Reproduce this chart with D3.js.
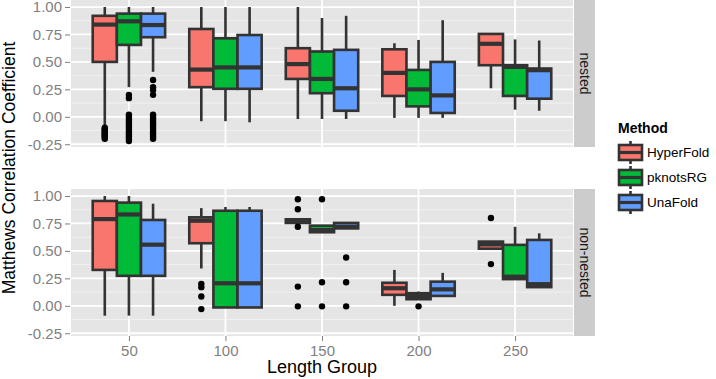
<!DOCTYPE html>
<html>
<head>
<meta charset="utf-8">
<script src="https://cdn.jsdelivr.net/npm/d3@7"></script>
<style>
  html, body { margin: 0; padding: 0; background: #ffffff; }
  svg { display: block; }
  text { font-family: "Liberation Sans", Arial, Helvetica, sans-serif; }
</style>
</head>
<body>
<svg id="chart" width="716" height="379"></svg>
<script>
// ---------------- DATA ----------------
const groups = ["50", "100", "150", "200", "250"];
const methods = ["HyperFold", "pknotsRG", "UnaFold"];
const methodColors = ["#F8766D", "#00BA38", "#619CFF"];
const facets = ["nested", "non-nested"];
const yTicks = [-0.25, 0, 0.25, 0.5, 0.75, 1];
const yTickLabels = ["-0.25", "0.00", "0.25", "0.50", "0.75", "1.00"];
const yMinor = [-0.125, 0.125, 0.375, 0.625, 0.875];

// box stats per group: [whiskerLow, q1, median, q3, whiskerHigh]
const nestedHyperFold = [
  [-0.085, 0.50, 0.84, 0.92, 1.00],
  [-0.04, 0.27, 0.43, 0.80, 1.00],
  [-0.02, 0.345, 0.48, 0.625, 1.00],
  [-0.01, 0.19, 0.40, 0.615, 0.67],
  [0.26, 0.47, 0.665, 0.755, 0.755]
];
const nestedPknotsRG = [
  [0.27, 0.655, 0.87, 0.94, 1.00],
  [-0.04, 0.255, 0.45, 0.715, 1.00],
  [-0.02, 0.215, 0.345, 0.595, 0.90],
  [-0.01, 0.095, 0.25, 0.427, 0.70],
  [0.065, 0.19, 0.455, 0.47, 0.705]
];
const nestedUnaFold = [
  [0.41, 0.725, 0.836, 0.94, 1.00],
  [-0.05, 0.255, 0.45, 0.745, 1.00],
  [-0.02, 0.055, 0.26, 0.61, 0.92],
  [-0.01, 0.035, 0.195, 0.50, 0.88],
  [0.055, 0.165, 0.425, 0.44, 0.695]
];
const nonNestedHyperFold = [
  [-0.09, 0.327, 0.79, 0.955, 1.00],
  [0.34, 0.57, 0.775, 0.806, 0.89],
  [0.752, 0.755, 0.77, 0.788, 0.788],
  [0.00, 0.10, 0.16, 0.21, 0.327],
  [0.515, 0.52, 0.56, 0.585, 0.59]
];
const nonNestedPknotsRG = [
  [-0.09, 0.273, 0.832, 0.94, 1.00],
  [-0.015, -0.015, 0.205, 0.866, 0.90],
  [0.67, 0.67, 0.69, 0.73, 0.73],
  [0.055, 0.06, 0.09, 0.115, 0.13],
  [0.243, 0.243, 0.265, 0.555, 0.72]
];
const nonNestedUnaFold = [
  [-0.09, 0.273, 0.557, 0.782, 0.93],
  [-0.015, -0.015, 0.205, 0.866, 0.90],
  [0.705, 0.705, 0.72, 0.755, 0.755],
  [0.09, 0.09, 0.15, 0.22, 0.30],
  [0.17, 0.17, 0.197, 0.60, 0.66]
];

// outliers per group
const nestedHyperFoldOut = [
  [-0.10, -0.11, -0.12, -0.13, -0.14, -0.15, -0.16, -0.17, -0.18, -0.19, -0.20],
  [], [], [], []
];
const nestedPknotsRGOut = [
  [0.20, 0.17, 0.02, 0.00, -0.02, -0.04, -0.06, -0.08, -0.10, -0.12, -0.14, -0.16, -0.18, -0.20, -0.22],
  [], [], [], []
];
const nestedUnaFoldOut = [
  [0.335, 0.27, 0.245, 0.20, 0.02, 0.00, -0.02, -0.04, -0.06, -0.08, -0.10, -0.12, -0.14, -0.16, -0.18, -0.20],
  [], [], [], []
];
const nonNestedHyperFoldOut = [
  [], [0.20, 0.17, 0.085, -0.03], [0.97, 0.88, 0.72, 0.175, -0.005], [], [0.80, 0.38]
];
const nonNestedPknotsRGOut = [
  [], [], [0.97, 0.215, -0.005], [-0.005], []
];
const nonNestedUnaFoldOut = [
  [], [], [0.44, 0.215, -0.005], [], []
];

const panelStats = [
  [nestedHyperFold, nestedPknotsRG, nestedUnaFold],
  [nonNestedHyperFold, nonNestedPknotsRG, nonNestedUnaFold]
];
const panelOut = [
  [nestedHyperFoldOut, nestedPknotsRGOut, nestedUnaFoldOut],
  [nonNestedHyperFoldOut, nonNestedPknotsRGOut, nonNestedUnaFoldOut]
];

// ---------------- LAYOUT ----------------
const svg = d3.select("#chart");
const panelX0 = 71, panelX1 = 573;
const panels = [ {top: 0, bottom: 147}, {top: 189, bottom: 336} ];
const stripX0 = 574, stripX1 = 595;
const tickGrey = "#7F7F7F";
const boxStroke = "#333333";

const x = d3.scalePoint().domain(groups).range([panelX0, panelX1]).padding(0.6);
const step = x.step();
const dodge = d3.scaleBand().domain(methods).range([-0.375 * step, 0.375 * step]);

panels.forEach((p, pi) => {
  const y = d3.scaleLinear().domain([-0.275, 1.064]).range([p.bottom, p.top]);
  const g = svg.append("g");

  g.append("rect").attr("x", panelX0).attr("y", p.top)
    .attr("width", panelX1 - panelX0).attr("height", p.bottom - p.top)
    .attr("fill", "#E5E5E5");

  g.selectAll(".minor").data(yMinor).enter().append("line")
    .attr("x1", panelX0).attr("x2", panelX1)
    .attr("y1", d => y(d)).attr("y2", d => y(d))
    .attr("stroke", "#F2F2F2").attr("stroke-width", 0.9);
  g.selectAll(".major").data(yTicks).enter().append("line")
    .attr("x1", panelX0).attr("x2", panelX1)
    .attr("y1", d => y(d)).attr("y2", d => y(d))
    .attr("stroke", "#FFFFFF").attr("stroke-width", 1.8);
  g.selectAll(".vmajor").data(groups).enter().append("line")
    .attr("x1", d => x(d)).attr("x2", d => x(d))
    .attr("y1", p.top).attr("y2", p.bottom)
    .attr("stroke", "#FFFFFF").attr("stroke-width", 1.8);

  // y axis
  const yAxis = d3.axisLeft(y).tickValues(yTicks)
    .tickFormat((d, i) => yTickLabels[i]).tickSize(5).tickPadding(3);
  const ya = svg.append("g").attr("transform", `translate(${panelX0 - 1},0)`).call(yAxis);
  ya.select(".domain").remove();
  ya.selectAll(".tick line").attr("stroke", tickGrey).attr("stroke-width", 1);
  ya.selectAll(".tick text").attr("fill", tickGrey).style("font-size", "15px")
    .style("font-family", "'Liberation Sans', Arial, sans-serif");

  // boxes
  methods.forEach((m, mi) => {
    const stats = panelStats[pi][mi];
    const outs = panelOut[pi][mi];
    const bw = dodge.bandwidth();
    groups.forEach((grp, gi) => {
      const s = stats[gi];
      const x0 = x(grp) + dodge(m);
      const cx = x0 + bw / 2;
      const bg = g.append("g");
      bg.append("line").attr("x1", cx).attr("x2", cx)
        .attr("y1", y(s[4])).attr("y2", y(s[3]))
        .attr("stroke", boxStroke).attr("stroke-width", 2.6);
      bg.append("line").attr("x1", cx).attr("x2", cx)
        .attr("y1", y(s[1])).attr("y2", y(s[0]))
        .attr("stroke", boxStroke).attr("stroke-width", 2.6);
      bg.append("rect").attr("x", x0).attr("y", y(s[3]))
        .attr("width", bw).attr("height", Math.max(0.5, y(s[1]) - y(s[3])))
        .attr("fill", methodColors[mi]).attr("stroke", boxStroke).attr("stroke-width", 2.6);
      bg.append("line").attr("x1", x0).attr("x2", x0 + bw)
        .attr("y1", y(s[2])).attr("y2", y(s[2]))
        .attr("stroke", boxStroke).attr("stroke-width", 4.2);
      bg.selectAll("circle").data(outs[gi]).enter().append("circle")
        .attr("cx", cx).attr("cy", d => y(d)).attr("r", 3.2).attr("fill", "#000000");
    });
  });

  // strip
  svg.append("rect").attr("x", stripX0).attr("y", p.top)
    .attr("width", stripX1 - stripX0).attr("height", p.bottom - p.top)
    .attr("fill", "#CCCCCC");
  svg.append("text")
    .attr("transform", `translate(${(stripX0 + stripX1) / 2},${(p.top + p.bottom) / 2}) rotate(90)`)
    .attr("text-anchor", "middle").attr("dy", "0.35em")
    .attr("fill", "#1A1A1A").style("font-size", "14px").text(facets[pi]);
});

// x axis (bottom panel)
const xAxis = d3.axisBottom(x).tickSize(5).tickPadding(4);
const xa = svg.append("g").attr("transform", `translate(0,${panels[1].bottom})`).call(xAxis);
xa.select(".domain").remove();
xa.selectAll(".tick line").attr("stroke", tickGrey).attr("stroke-width", 1);
xa.selectAll(".tick text").attr("fill", tickGrey).style("font-size", "15px")
  .style("font-family", "'Liberation Sans', Arial, sans-serif");

// axis titles
svg.append("text").attr("x", (panelX0 + panelX1) / 2).attr("y", 373)
  .attr("text-anchor", "middle").attr("fill", "#000").style("font-size", "18px")
  .text("Length Group");
svg.append("text")
  .attr("transform", `translate(15,${(panels[0].top + panels[1].bottom) / 2}) rotate(-90)`)
  .attr("text-anchor", "middle").attr("fill", "#000").style("font-size", "17.5px")
  .text("Matthews Correlation Coefficient");

// legend
const lg = svg.append("g").attr("transform", "translate(616,0)");
lg.append("text").attr("x", 2).attr("y", 133).style("font-size", "14px")
  .style("font-weight", "bold").attr("fill", "#000").text("Method");
const keyH = 25, keyTop = 140;
methods.forEach((m, i) => {
  const ky = keyTop + i * keyH;
  const k = lg.append("g");
  k.append("line").attr("x1", 14.5).attr("x2", 14.5).attr("y1", ky + 1).attr("y2", ky + keyH - 1)
    .attr("stroke", boxStroke).attr("stroke-width", 2.6);
  k.append("rect").attr("x", 3).attr("y", ky + 5).attr("width", 23).attr("height", 15)
    .attr("fill", methodColors[i]).attr("stroke", boxStroke).attr("stroke-width", 2.6);
  k.append("line").attr("x1", 3).attr("x2", 26).attr("y1", ky + 12.5).attr("y2", ky + 12.5)
    .attr("stroke", boxStroke).attr("stroke-width", 3.2);
  lg.append("text").attr("x", 31).attr("y", ky + 12.5).attr("dy", "0.35em")
    .style("font-size", "13.5px").attr("fill", "#000").text(m);
});
</script>
</body>
</html>
